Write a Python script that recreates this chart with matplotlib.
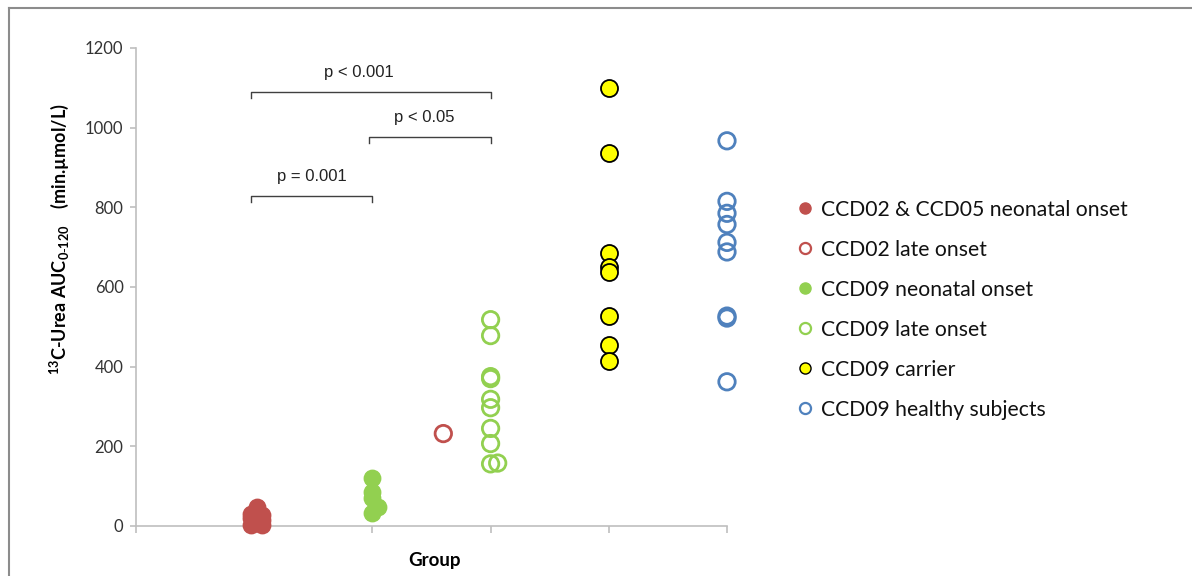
import matplotlib
matplotlib.use("Agg")
import matplotlib.pyplot as plt
from matplotlib.lines import Line2D

# ---- data ----
labels = ["CCD02 & CCD05 neonatal onset", "CCD02 late onset", "CCD09 neonatal onset",
          "CCD09 late onset", "CCD09 carrier", "CCD09 healthy subjects"]

red_neo_x = [1.02, 0.97, 1.07, 1.02, 0.97, 1.07, 1.02, 0.97, 1.07]
red_neo_y = [47, 30, 28, 22, 20, 15, 10, 3, 2]

red_late_x = [2.6]
red_late_y = [232]

green_neo_x = [2.0, 2.0, 2.0, 2.05, 2.0]
green_neo_y = [120, 85, 70, 48, 33]

green_late_x = [3.0, 3.0, 3.0, 3.0, 3.0, 3.0, 3.0, 3.0, 3.0, 3.06]
green_late_y = [518, 478, 375, 370, 318, 297, 245, 207, 156, 158]

yellow_x = [4.0] * 8
yellow_y = [1100, 937, 685, 650, 637, 527, 455, 413]

blue_x = [5.0] * 9
blue_y = [967, 815, 785, 757, 712, 688, 527, 522, 362]

yticks = [0, 200, 400, 600, 800, 1000, 1200]

brackets = [  # (x1, x2, y, text)
    (0.97, 3.0, 1090, "p < 0.001"),
    (1.97, 3.0, 977, "p < 0.05"),
    (0.97, 2.0, 828, "p = 0.001"),
]
text_shift = [-0.1, -0.05, 0.0]

RED = "#C0504D"
GREEN = "#92D050"
YELLOW = "#FFFF00"
BLUE = "#4F81BD"
AXIS = "#BFBFBF"

fig = plt.figure(figsize=(11.92, 5.76), dpi=100)
ax = fig.add_axes([136 / 1192, 1 - 526 / 576, (727 - 136) / 1192, (526 - 48) / 576])

S = 140
kw = dict(zorder=3, clip_on=False)
ax.scatter(red_neo_x, red_neo_y, s=S, color=RED, edgecolors=RED, linewidths=1, **kw)
ax.scatter(red_late_x, red_late_y, s=S, facecolors="none", edgecolors=RED, linewidths=2, **kw)
ax.scatter(green_neo_x, green_neo_y, s=S, color=GREEN, edgecolors=GREEN, linewidths=1, **kw)
ax.scatter(green_late_x, green_late_y, s=S, facecolors="none", edgecolors=GREEN, linewidths=2, **kw)
ax.scatter(yellow_x, yellow_y, s=S + 10, facecolors=YELLOW, edgecolors="black", linewidths=1.3, **kw)
ax.scatter(blue_x, blue_y, s=S, facecolors="none", edgecolors=BLUE, linewidths=2, **kw)

ax.set_xlim(0, 5)
ax.set_ylim(0, 1200)
ax.set_yticks(yticks)
ax.set_xticks([0, 1, 2, 3, 4, 5])
ax.set_xticklabels([])
for s in ["top", "right"]:
    ax.spines[s].set_visible(False)
for s in ["left", "bottom"]:
    ax.spines[s].set_color(AXIS)
    ax.spines[s].set_linewidth(1.2)
    ax.spines[s].set_zorder(1)
ax.tick_params(axis="y", direction="out", length=4, color=AXIS, width=1.2,
               labelsize=12, labelcolor="#333333", pad=5)
ax.tick_params(axis="x", direction="out", length=5, color=AXIS, width=1.2)
for t in ax.get_yticklabels():
    t.set_fontfamily("Lato")

ax.set_xlabel("Group", fontfamily="Lato", fontweight="bold", fontsize=13.5)
ax.xaxis.set_label_coords(0.505, -0.055)
ax.set_ylabel(r"$^{\mathregular{13}}$C-Urea AUC$_{\mathregular{0\text{-}120}}$    (min.µmol/L)",
              fontfamily="Lato", fontweight="bold", fontsize=13)
ax.yaxis.set_label_coords(-0.11, 0.6)

for (x1, x2, y, txt), dx in zip(brackets, text_shift):
    ax.plot([x1, x1, x2, x2], [y - 15, y, y, y - 15], color="#404040", lw=1.0, clip_on=False)
    ax.text((x1 + x2) / 2 + dx, y + 30, txt, ha="center", va="bottom",
            fontfamily="Liberation Sans", fontsize=12, color="#222222")

handles = [
    Line2D([], [], ls="none", marker="o", ms=8, mfc=RED, mec=RED),
    Line2D([], [], ls="none", marker="o", ms=8, mfc="none", mec=RED, mew=1.6),
    Line2D([], [], ls="none", marker="o", ms=8, mfc=GREEN, mec=GREEN),
    Line2D([], [], ls="none", marker="o", ms=8, mfc="none", mec=GREEN, mew=1.6),
    Line2D([], [], ls="none", marker="o", ms=8, mfc=YELLOW, mec="black", mew=1.0),
    Line2D([], [], ls="none", marker="o", ms=8, mfc="none", mec=BLUE, mew=1.6),
]
leg = fig.legend(handles, labels, loc="upper left", bbox_to_anchor=(788 / 1192, 1 - 189 / 576),
                 frameon=False, prop={"family": "Lato", "size": 15.2},
                 handlelength=0.6, handletextpad=0.45, labelspacing=0.95, borderpad=0)
for t in leg.get_texts():
    t.set_color("#111111")

# outer border (cropped frame)
fig.add_artist(Line2D([8.5 / 1192, 8.5 / 1192], [0, 1 - 7.5 / 576], color="#8C8C8C", lw=1.5,
                      transform=fig.transFigure))
fig.add_artist(Line2D([8.5 / 1192, 1], [1 - 7.5 / 576, 1 - 7.5 / 576], color="#8C8C8C", lw=1.5,
                      transform=fig.transFigure))

fig.savefig("out.png", dpi=100)
